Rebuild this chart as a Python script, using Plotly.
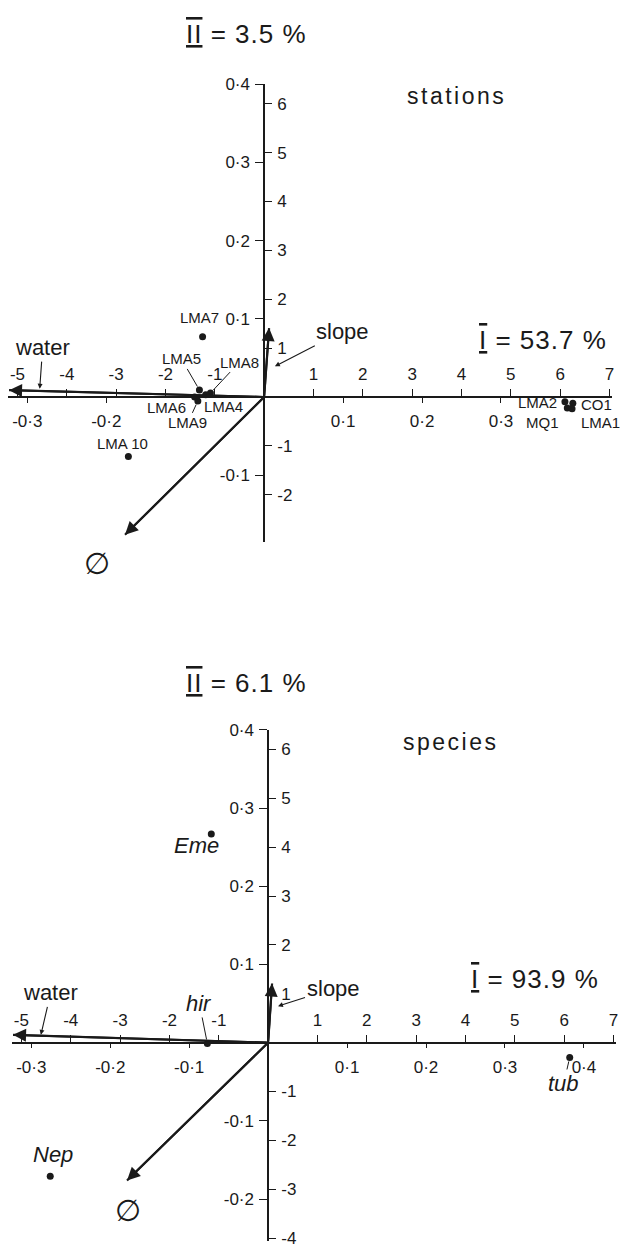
import plotly.graph_objects as go

W, H = 623, 1254
FONT = "Liberation Sans"
INK = "#1a1a1a"

# ---- data -------------------------------------------------------------
# station scores (points scale)
station_names = ["LMA7", "LMA5", "LMA8", "LMA6", "LMA4", "LMA9", "LMA 10",
                 "LMA2", "CO1", "MQ1", "LMA1"]
station_x = [-0.078, -0.082, -0.068, -0.088, -0.074, -0.084, -0.172,
             0.381, 0.391, 0.384, 0.390]
station_y = [0.077, 0.009, 0.005, 0.000, 0.003, -0.005, -0.076,
             -0.006, -0.008, -0.014, -0.015]

# species scores (points scale)
species_names = ["Eme", "Nep", "hir", "tub"]
species_x = [-0.072, -0.276, -0.077, 0.382]
species_y = [0.267, -0.171, -0.001, -0.019]

# environmental variables (vector scale)
env_names = ["water", "slope", "∅"]
station_env_x = [-5.17, 0.10, -2.82]
station_env_y = [0.14, 1.41, -2.82]
species_env_x = [-5.17, 0.08, -2.86]
species_env_y = [0.16, 1.21, -2.82]

# explained variance of axes I and II
station_pct = ["53.7", "3.5"]
species_pct = ["93.9", "6.1"]

# tick values
station_pt_xticks = [-0.3, -0.2, 0.1, 0.2, 0.3]
station_pt_yticks = [-0.1, 0.1, 0.2, 0.3, 0.4]
species_pt_xticks = [-0.3, -0.2, -0.1, 0.1, 0.2, 0.3, 0.4]
species_pt_yticks = [-0.2, -0.1, 0.1, 0.2, 0.3, 0.4]
vec_xticks = [-5, -4, -3, -2, -1, 1, 2, 3, 4, 5, 6, 7]
station_vec_yticks = [-2, -1, 1, 2, 3, 4, 5, 6]
species_vec_yticks = [-4, -3, -2, -1, 1, 2, 3, 4, 5, 6]

# ---- layout constants -------------------------------------------------
PX_PER_PT = 792.0      # pixels per unit of the points scale
VEC_PER_PT = 16.0      # vector units per points unit

# label placement: text centre offset from the mark (px right, px down), leader line?
station_label_pos = {
    "LMA7": (-3, -19, False), "LMA5": (-18, -31, True), "LMA8": (29, -31, True),
    "LMA6": (-28, 11, False), "LMA4": (18, 12, False), "LMA9": (-10, 22, True),
    "LMA 10": (-6, -13, False), "LMA2": (-27, 1, False), "CO1": (24, 1, False),
    "MQ1": (-25, 15, False), "LMA1": (28, 14, False),
}
species_label_pos = {
    "Eme": (-15, 12, False), "Nep": (3, -22, False),
    "hir": (-8, -40, True), "tub": (-6, 26, True),
}


def fmt_pt(v):
    return ("-" if v < 0 else "") + "0·" + str(int(round(abs(v) * 10)))


def axis(domain, rng, pos, side, vals, texts, ticklen, standoff, overlay=None):
    d = dict(domain=domain, range=rng, anchor="free", position=pos, side=side,
             tickmode="array", tickvals=vals, ticktext=texts,
             ticks="outside", ticklen=ticklen, tickwidth=1.3, tickcolor=INK,
             ticklabelstandoff=standoff, ticklabeloverflow="allow",
             showline=True, linecolor=INK, linewidth=1.5,
             showgrid=False, zeroline=False, fixedrange=True,
             tickfont=dict(family=FONT, size=17, color=INK))
    if overlay:
        d["overlaying"] = overlay
    return d


def akey(a):
    return a[0] + "axis" + a[1:]


def text_at(x, y, text, size, family=FONT):
    return dict(x=x / W, y=1 - y / H, xref="paper", yref="paper", text=text,
                showarrow=False, xanchor="center", yanchor="middle",
                font=dict(family=family, size=size, color=INK))


fig = go.Figure()
annotations = []

panels = [
    dict(title="stations", axes=("x", "y", "x2", "y2"), origin=(265, 393),
         xpx=(8, 614), ypx=(76, 540),
         names=station_names, px=station_x, py=station_y, lab=station_label_pos,
         ex=station_env_x, ey=station_env_y, pct=station_pct,
         ptx=station_pt_xticks, pty=station_pt_yticks, vy=station_vec_yticks,
         italic=False,
         title_px=(247, 25), name_px=(458, 88), pct1_px=(545, 335),
         water=(-4.55, 0.15, 3, -42), slope=(0.2, 0.62, 68, -35), phi=(-28, 29)),
    dict(title="species", axes=("x3", "y3", "x4", "y4"), origin=(269, 1047),
         xpx=(12, 618), ypx=(730, 1248),
         names=species_names, px=species_x, py=species_y, lab=species_label_pos,
         ex=species_env_x, ey=species_env_y, pct=species_pct,
         ptx=species_pt_xticks, pty=species_pt_yticks, vy=species_vec_yticks,
         italic=True,
         title_px=(247, 683), name_px=(452, 742), pct1_px=(537, 983),
         water=(-4.61, 0.14, 10, -43), slope=(0.18, 0.74, 56, -18), phi=(1, 30)),
]

for p in panels:
    xa, ya, xv, yv = p["axes"]
    ox, oy = p["origin"]
    x_rng = [(p["xpx"][0] - ox) / PX_PER_PT, (p["xpx"][1] - ox) / PX_PER_PT]
    y_rng = [(oy - p["ypx"][1]) / PX_PER_PT, (oy - p["ypx"][0]) / PX_PER_PT]
    x_dom = [p["xpx"][0] / W, p["xpx"][1] / W]
    y_dom = [1 - p["ypx"][1] / H, 1 - p["ypx"][0] / H]
    xpos = 1 - oy / H
    ypos = ox / W

    fig.layout[akey(xa)] = axis(x_dom, x_rng, xpos, "bottom", p["ptx"],
                                [fmt_pt(v) for v in p["ptx"]], 5, 4)
    fig.layout[akey(ya)] = axis(y_dom, y_rng, ypos, "left", p["pty"],
                                [fmt_pt(v) for v in p["pty"]], 8, 2)
    fig.layout[akey(xv)] = axis(x_dom, [v * VEC_PER_PT for v in x_rng], xpos, "top",
                                vec_xticks, [str(v) for v in vec_xticks], 7, 2, overlay=xa)
    fig.layout[akey(yv)] = axis(y_dom, [v * VEC_PER_PT for v in y_rng], ypos, "right",
                                p["vy"], [str(v) for v in p["vy"]], 7, 2, overlay=ya)

    # environmental vectors: shaft as a trace, head as an annotation arrow
    for i, name in enumerate(env_names):
        fig.add_trace(go.Scatter(
            x=[0, p["ex"][i]], y=[0, p["ey"][i]], xaxis=xv, yaxis=yv,
            mode="lines", hoverinfo="skip",
            line=dict(color=INK, width=2.2),
        ))
        annotations.append(dict(
            x=p["ex"][i], y=p["ey"][i], xref=xv, yref=yv,
            ax=0, ay=0, axref=xv, ayref=yv, text="", showarrow=True,
            arrowhead=2, arrowsize=1.3, arrowwidth=2, arrowcolor=INK))

    # objects
    fig.add_trace(go.Scatter(
        x=p["px"], y=p["py"], xaxis=xa, yaxis=ya, mode="markers",
        cliponaxis=False, hoverinfo="skip",
        marker=dict(size=7, color=INK),
    ))
    for name, x, y in zip(p["names"], p["px"], p["py"]):
        dx, dy, leader = p["lab"][name]
        txt = f"<i>{name}</i>" if p["italic"] else name
        size = 22 if p["italic"] else 15
        if leader:
            annotations.append(dict(
                x=x, y=y, xref=xa, yref=ya, text=txt, showarrow=True,
                ax=dx, ay=dy, arrowhead=0, arrowwidth=1, arrowcolor=INK,
                standoff=4, xanchor="center", yanchor="middle",
                font=dict(family=FONT, size=size, color=INK)))
        else:
            annotations.append(dict(
                x=x, y=y, xref=xa, yref=ya, text=txt, showarrow=False,
                xanchor="center", yanchor="middle",
                xshift=dx, yshift=-dy, font=dict(family=FONT, size=size, color=INK)))

    # variable labels
    for key, label in (("water", "water"), ("slope", "slope")):
        vx, vy, ldx, ldy = p[key]
        annotations.append(dict(
            x=vx, y=vy, xref=xv, yref=yv, text=label, showarrow=True,
            ax=ldx, ay=ldy, arrowhead=2, arrowsize=0.9, arrowwidth=1.1,
            arrowcolor=INK, standoff=1, xanchor="center", yanchor="middle",
            font=dict(family=FONT, size=22, color=INK)))
    annotations.append(dict(
        x=p["ex"][2], y=p["ey"][2], xref=xv, yref=yv, text=env_names[2],
        showarrow=False, xanchor="center", yanchor="middle",
        xshift=p["phi"][0], yshift=-p["phi"][1],
        font=dict(family="DejaVu Sans", size=30, color=INK)))

    # titles
    bar = '<span style="text-decoration:overline underline">{}</span>'
    spaced = '<span style="letter-spacing:1px">{}</span>'
    annotations.append(text_at(*p["title_px"], spaced.format(
        bar.format("II") + " = " + p["pct"][1] + " %"), 26))
    annotations.append(text_at(*p["pct1_px"], spaced.format(
        bar.format("I") + " = " + p["pct"][0] + " %"), 26))
    annotations.append(text_at(*p["name_px"],
                               f'<span style="letter-spacing:2.5px">{p["title"]}</span>', 23))

fig.update_layout(
    width=W, height=H,
    margin=dict(l=0, r=0, t=0, b=0),
    paper_bgcolor="white", plot_bgcolor="white",
    showlegend=False,
    annotations=annotations,
)

# drop the page's default body margin so the figure fills the window exactly
fig.write_html("out.html", config={"displayModeBar": False},
               post_script="document.body.style.margin='0';document.body.style.overflow='hidden';")
